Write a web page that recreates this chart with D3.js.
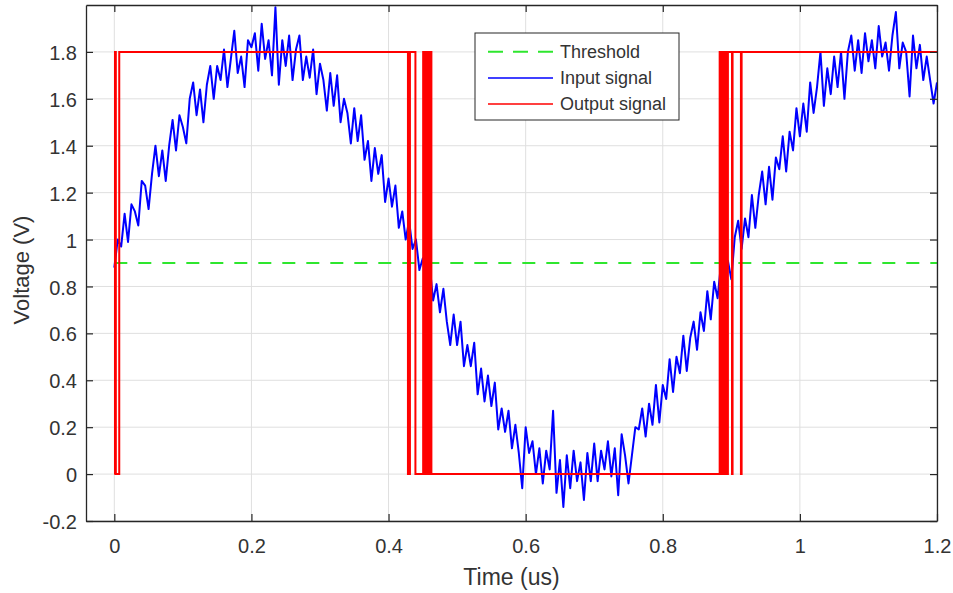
<!DOCTYPE html>
<html>
<head>
<meta charset="utf-8">
<script src="https://cdn.jsdelivr.net/npm/d3@7"></script>
<style>
  html, body { margin: 0; padding: 0; background: #fff; }
  svg { display: block; font-family: "Liberation Sans", Arial, Helvetica, sans-serif; }
</style>
</head>
<body>
<svg id="chart" width="953" height="593"></svg>
<script>
// ---------------- DATA ----------------
const xTicks = [0, 0.2, 0.4, 0.6, 0.8, 1, 1.2];
const xTickLabels = ["0", "0.2", "0.4", "0.6", "0.8", "1", "1.2"];
const yTicks = [-0.2, 0, 0.2, 0.4, 0.6, 0.8, 1, 1.2, 1.4, 1.6, 1.8];
const yTickLabels = ["-0.2", "0", "0.2", "0.4", "0.6", "0.8", "1", "1.2", "1.4", "1.6", "1.8"];

const seriesNames = ["Threshold", "Input signal", "Output signal"];

// Threshold (V) over time (us)
const thresholdTime = [0, 1.2];
const thresholdValue = [0.9, 0.9];

// Input signal: samples every 0.005 us starting at 0
const inputStart = 0;
const inputStep = 0.005;
const inputValue = [
  0.88, 1.00, 0.97, 1.11, 0.99, 1.15, 1.12, 1.06, 1.25, 1.23,
  1.13, 1.28, 1.40, 1.27, 1.38, 1.25, 1.40, 1.51, 1.38, 1.53,
  1.48, 1.41, 1.60, 1.67, 1.53, 1.64, 1.50, 1.66, 1.74, 1.60,
  1.74, 1.68, 1.81, 1.65, 1.77, 1.89, 1.71, 1.78, 1.65, 1.85,
  1.82, 1.88, 1.72, 1.92, 1.77, 1.85, 1.70, 1.99, 1.66, 1.85,
  1.74, 1.87, 1.68, 1.81, 1.87, 1.68, 1.78, 1.69, 1.81, 1.62,
  1.75, 1.68, 1.55, 1.71, 1.57, 1.70, 1.50, 1.60, 1.54, 1.41,
  1.56, 1.42, 1.53, 1.34, 1.42, 1.25, 1.39, 1.28, 1.36, 1.16,
  1.26, 1.14, 1.23, 1.05, 1.12, 1.00, 1.08, 0.96, 1.00, 0.87,
  0.92, 0.83, 0.89, 0.74, 0.81, 0.69, 0.79, 0.65, 0.55, 0.68,
  0.55, 0.65, 0.46, 0.55, 0.46, 0.56, 0.34, 0.45, 0.31, 0.42,
  0.29, 0.39, 0.19, 0.28, 0.18, 0.27, 0.11, 0.21, 0.09, -0.06,
  0.20, 0.09, 0.14, 0.00, 0.11, -0.04, 0.10, 0.02, 0.27, -0.08,
  0.06, -0.14, 0.08, -0.06, 0.10, -0.03, 0.05, -0.11, 0.09, -0.03,
  0.13, -0.03, 0.10, 0.02, 0.14, -0.01, 0.11, -0.09, 0.17, 0.08,
  -0.04, 0.08, 0.20, 0.19, 0.28, 0.16, 0.30, 0.21, 0.38, 0.22,
  0.38, 0.32, 0.49, 0.35, 0.50, 0.43, 0.59, 0.44, 0.58, 0.65,
  0.53, 0.69, 0.61, 0.78, 0.66, 0.82, 0.75, 0.90, 0.74, 0.91,
  0.83, 1.01, 1.08, 0.96, 1.09, 1.01, 1.19, 1.05, 1.19, 1.29,
  1.15, 1.31, 1.17, 1.35, 1.30, 1.44, 1.29, 1.46, 1.38, 1.56,
  1.44, 1.58, 1.46, 1.67, 1.54, 1.65, 1.80, 1.57, 1.73, 1.62,
  1.78, 1.65, 1.80, 1.60, 1.80, 1.87, 1.72, 1.85, 1.71, 1.88,
  1.76, 1.85, 1.73, 1.91, 1.78, 1.84, 1.72, 1.87, 1.97, 1.73,
  1.84, 1.80, 1.61, 1.87, 1.73, 1.83, 1.68, 1.78, 1.68, 1.58,
  1.67
];

// Output signal: level changes (step after each time)
const outputTime = [
  0, 0.0010, 0.0022, 0.0072,
  0.4283, 0.4312, 0.4392,
  0.4505, 0.4520, 0.4540, 0.4555, 0.4575, 0.4590, 0.4610, 0.4625,
  0.8830, 0.8845, 0.8855, 0.8870, 0.8880, 0.8895, 0.8905, 0.8918, 0.8928, 0.8940, 0.8950,
  0.9010, 0.9018, 0.9140, 0.9150,
  1.2
];
const outputValue = [
  0, 1.8, 0, 1.8,
  0, 1.8, 0,
  1.8, 0, 1.8, 0, 1.8, 0, 1.8, 0,
  1.8, 0, 1.8, 0, 1.8, 0, 1.8, 0, 1.8, 0, 1.8,
  0, 1.8, 0, 1.8,
  1.8
];

// ---------------- CHART ----------------
const svg = d3.select("#chart");
const W = 953, H = 593;
const plot = { left: 86, right: 937, top: 5, bottom: 521 };

svg.append("rect").attr("width", W).attr("height", H).attr("fill", "#fff");

const x = d3.scaleLinear().domain([-0.0413, 1.2]).range([plot.left, plot.right]);
const y = d3.scaleLinear().domain([-0.2, 2.0]).range([plot.bottom, plot.top]);

const axisColor = "#262626";
const textColor = "#333333";
const gridColor = "#dfdfdf";

// grid
const grid = svg.append("g");
grid.selectAll("line.gx").data(xTicks).join("line")
  .attr("x1", d => x(d)).attr("x2", d => x(d))
  .attr("y1", plot.top).attr("y2", plot.bottom)
  .attr("stroke", gridColor).attr("stroke-width", 1);
grid.selectAll("line.gy").data(yTicks).join("line")
  .attr("y1", d => y(d)).attr("y2", d => y(d))
  .attr("x1", plot.left).attr("x2", plot.right)
  .attr("stroke", gridColor).attr("stroke-width", 1);

// clip
svg.append("clipPath").attr("id", "clip").append("rect")
  .attr("x", plot.left).attr("y", plot.top)
  .attr("width", plot.right - plot.left).attr("height", plot.bottom - plot.top);

const lines = svg.append("g").attr("clip-path", "url(#clip)");

const thresholdData = thresholdTime.map((t, i) => [t, thresholdValue[i]]);
const inputData = inputValue.map((v, i) => [inputStart + i * inputStep, v]);
const outputData = outputTime.map((t, i) => [t, outputValue[i]]);

const lineGen = d3.line().x(d => x(d[0])).y(d => y(d[1]));
const stepGen = d3.line().x(d => x(d[0])).y(d => y(d[1])).curve(d3.curveStepAfter);

const colors = { thr: "#2ee62e", inp: "#0000ff", out: "#ff0000" };

lines.append("path").datum(thresholdData).attr("d", lineGen)
  .attr("fill", "none").attr("stroke", colors.thr).attr("stroke-width", 2)
  .attr("stroke-dasharray", "13,11");
lines.append("path").datum(inputData).attr("d", lineGen)
  .attr("fill", "none").attr("stroke", colors.inp).attr("stroke-width", 2)
  .attr("stroke-linejoin", "round");
lines.append("path").datum(outputData).attr("d", stepGen)
  .attr("fill", "none").attr("stroke", colors.out).attr("stroke-width", 2);

// axes
const fontTick = 20;
function styleAxis(g) {
  g.select(".domain").attr("stroke", axisColor).attr("stroke-width", 1.3);
  g.selectAll(".tick line").attr("stroke", axisColor).attr("stroke-width", 1.2);
  g.selectAll(".tick text").attr("fill", textColor).attr("font-size", fontTick)
    .attr("font-family", "Liberation Sans, Arial, sans-serif");
}

const xAxisB = d3.axisBottom(x).tickValues(xTicks).tickFormat((d, i) => xTickLabels[i])
  .tickSizeInner(-7).tickSizeOuter(0).tickPadding(18);
svg.append("g").attr("transform", `translate(0,${plot.bottom})`).call(xAxisB).call(styleAxis);

const xAxisT = d3.axisTop(x).tickValues(xTicks).tickFormat("")
  .tickSizeInner(-7).tickSizeOuter(0);
svg.append("g").attr("transform", `translate(0,${plot.top})`).call(xAxisT).call(styleAxis);

const yAxisL = d3.axisLeft(y).tickValues(yTicks).tickFormat((d, i) => yTickLabels[i])
  .tickSizeInner(-7).tickSizeOuter(0).tickPadding(9);
const gL = svg.append("g").attr("transform", `translate(${plot.left},0)`).call(yAxisL).call(styleAxis);
gL.selectAll(".tick text").attr("dy", "0.38em");

const yAxisR = d3.axisRight(y).tickValues(yTicks).tickFormat("")
  .tickSizeInner(-7).tickSizeOuter(0);
svg.append("g").attr("transform", `translate(${plot.right},0)`).call(yAxisR).call(styleAxis);

// axis labels
svg.append("text").attr("x", (plot.left + plot.right) / 2).attr("y", 585)
  .attr("text-anchor", "middle").attr("fill", textColor).attr("font-size", 23)
  .text("Time (us)");
svg.append("text").attr("transform", `translate(29,270) rotate(-90)`)
  .attr("text-anchor", "middle").attr("fill", textColor).attr("font-size", 22)
  .text("Voltage (V)");

// legend
const leg = svg.append("g");
const legBox = { x: 475, y: 33, w: 204, h: 87 };
leg.append("rect").attr("x", legBox.x).attr("y", legBox.y).attr("width", legBox.w).attr("height", legBox.h)
  .attr("fill", "#fff").attr("stroke", axisColor).attr("stroke-width", 1);
const legRows = [
  { name: seriesNames[0], color: colors.thr, dash: "15,10", w: 2 },
  { name: seriesNames[1], color: colors.inp, dash: null, w: 1.6 },
  { name: seriesNames[2], color: colors.out, dash: null, w: 1.6 }
];
const rowY = [51.7, 78, 104];
legRows.forEach((r, i) => {
  leg.append("line").attr("x1", 488).attr("x2", 553).attr("y1", rowY[i]).attr("y2", rowY[i])
    .attr("stroke", r.color).attr("stroke-width", r.w).attr("stroke-dasharray", r.dash);
  leg.append("text").attr("x", 560).attr("y", rowY[i]).attr("dy", "0.35em")
    .attr("fill", textColor).attr("font-size", 18).text(r.name);
});
</script>
</body>
</html>
